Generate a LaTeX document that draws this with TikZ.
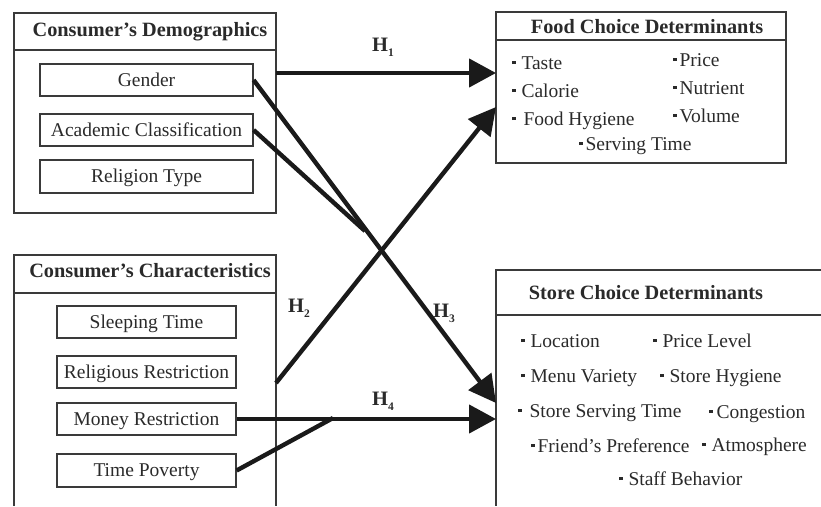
\documentclass[tikz,border=0pt]{standalone}
\usepackage{fontspec}
\setmainfont{Liberation Serif}
\usetikzlibrary{arrows.meta}
\definecolor{ink}{HTML}{1A1A1A}
\definecolor{txt}{HTML}{2A2A2A}
\definecolor{frm}{HTML}{3A3A3A}
\newcommand{\sqb}{\rule[0.25em]{3.3pt}{3.3pt}}
\newcommand{\hyp}[1]{H\raisebox{-0.28em}{\fontsize{11.5}{11.5}\selectfont #1}}
\begin{document}
\begin{tikzpicture}[x=1pt,y=-1pt,
  font=\fontsize{19.5}{23}\selectfont, text=txt,
  frame/.style={draw=frm, line width=1.3pt},
  hdr/.style={font=\fontsize{20.3}{24}\selectfont\bfseries, anchor=base, inner sep=0},
  itembox/.style={draw=frm, line width=1.2pt, inner sep=0, text height=12.5pt, text depth=0pt},
  bul/.style={anchor=base west, inner sep=0},
  link/.style={draw=ink, line width=4.4pt},
  arr/.style={link, -{Triangle[length=27pt,width=28pt]}},
  hlab/.style={font=\fontsize{20.5}{24}\selectfont\bfseries, anchor=base west, inner sep=0}]
\useasboundingbox (0,0) rectangle (821,506);

% ---------- Consumer's Demographics ----------
\node[frame, minimum width=262pt, minimum height=200pt, inner sep=0] (demo) at (145,113) {};
\draw[frame] (14,50) -- (276,50);
\node[hdr] (demot) at (150,36) {Consumer’s Demographics};
\node[itembox, minimum width=213pt, minimum height=32pt] (gender) at (146.5,80) {Gender};
\node[itembox, minimum width=213pt, minimum height=32pt] (acad) at (146.5,130) {Academic Classification};
\node[itembox, minimum width=213pt, minimum height=33pt] (relig) at (146.5,176.5) {Religion Type};

% ---------- Consumer's Characteristics ----------
\draw[frame] (14,506) -- (14,255) -- (276,255) -- (276,506);
\draw[frame] (14,293) -- (276,293);
\node[hdr] (chart) at (150,277) {Consumer’s Characteristics};
\node[itembox, minimum width=179pt, minimum height=32pt] (sleep) at (146.5,322) {Sleeping Time};
\node[itembox, minimum width=179pt, minimum height=32pt] (relres) at (146.5,372) {Religious Restriction};
\node[itembox, minimum width=179pt, minimum height=32pt] (money) at (146.5,419) {Money Restriction};
\node[itembox, minimum width=179pt, minimum height=33pt] (tpov) at (146.5,470.5) {Time Poverty};

% ---------- Food Choice Determinants ----------
\node[frame, minimum width=290pt, minimum height=151pt, inner sep=0] (food) at (641,87.5) {};
\draw[frame] (496,40) -- (786,40);
\node[hdr] (foodt) at (647,33) {Food Choice Determinants};
\node[bul] (taste) at (512,69) {\sqb\hspace{6pt}Taste};
\node[bul] (calorie) at (512,97) {\sqb\hspace{6pt}Calorie};
\node[bul] (fhyg) at (512,125) {\sqb\hspace{8pt}Food Hygiene};
\node[bul] (price) at (673,66) {\sqb\hspace{3pt}Price};
\node[bul] (nutr) at (673,94) {\sqb\hspace{3pt}Nutrient};
\node[bul] (vol) at (673,122) {\sqb\hspace{3pt}Volume};
\node[bul] (serv) at (579,150) {\sqb\hspace{3pt}Serving Time};

% ---------- Store Choice Determinants ----------
\draw[frame] (821,270) -- (496,270) -- (496,506);
\draw[frame] (496,315) -- (821,315);
\node[hdr] (storet) at (646,299) {Store Choice Determinants};
\node[bul] (loc) at (521,347) {\sqb\hspace{6pt}Location};
\node[bul] (plev) at (653,347) {\sqb\hspace{6pt}Price Level};
\node[bul] (menu) at (521,382) {\sqb\hspace{6pt}Menu Variety};
\node[bul] (shyg) at (660,382) {\sqb\hspace{6pt}Store Hygiene};
\node[bul] (sserv) at (518,417) {\sqb\hspace{8pt}Store Serving Time};
\node[bul] (cong) at (709,418) {\sqb\hspace{4pt}Congestion};
\node[bul] (friend) at (531,452) {\sqb\hspace{3pt}Friend’s Preference};
\node[bul] (atmo) at (702,451) {\sqb\hspace{6pt}Atmosphere};
\node[bul] (staff) at (619,485) {\sqb\hspace{6pt}Staff Behavior};

% ---------- connector end points ----------
\coordinate (h1s) at (276,73);
\coordinate (h1e) at (496,73);
\coordinate (h2s) at (276,383);
\coordinate (h2e) at (496,107);
\coordinate (h3e) at (496,403);
\coordinate (h3m) at (365,231);
\coordinate (h4e) at (496,419);
\coordinate (tpm) at (333,418);

% ---------- connectors ----------
\draw[arr] (h1s) -- (h1e);
\draw[arr] (h2s) -- (h2e);
\draw[link] (acad.east) -- (h3m);
\draw[arr] (gender.east) -- (h3e);
\draw[link] (tpov.east) -- (tpm);
\draw[arr] (money.east) -- (h4e);

% ---------- hypothesis labels ----------
\node[hlab] (lh1) at (372,51) {\hyp{1}};
\node[hlab] (lh2) at (288,312) {\hyp{2}};
\node[hlab] (lh3) at (433,317) {\hyp{3}};
\node[hlab] (lh4) at (372,405) {\hyp{4}};
\end{tikzpicture}
\end{document}
